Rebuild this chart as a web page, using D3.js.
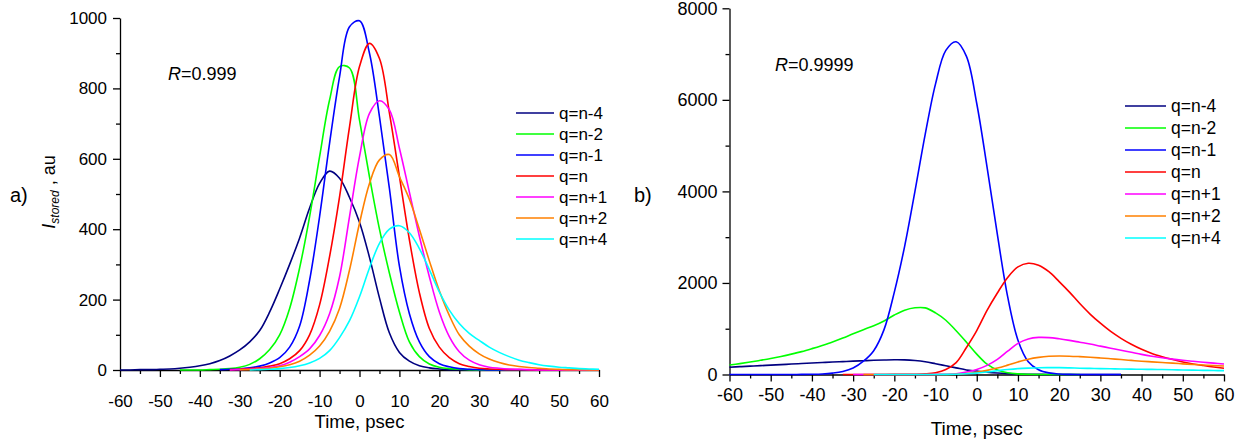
<!DOCTYPE html>
<html>
<head>
<meta charset="utf-8">
<script src="https://cdn.jsdelivr.net/npm/d3@7"></script>
<style>
body { margin: 0; background: #fff; }
svg text { font-family: "Liberation Sans", Arial, sans-serif; fill: #000; }
</style>
</head>
<body>
<svg id="chart" width="1254" height="448"></svg>
<script>
// time grid, psec (same for every series)
var time = [-60,-57.5,-55,-52.5,-50,-47.5,-45,-42.5,-40,-37.5,-35,-32.5,-30,-27.5,-25,-22.5,-20,-17.5,-15,-12.5,
            -10,-7.5,-5,-2.5,0,2.5,5,7.5,10,12.5,15,17.5,20,22.5,25,27.5,30,32.5,35,37.5,
            40,42.5,45,47.5,50,52.5,55,57.5,60];

var names = ["q=n-4","q=n-2","q=n-1","q=n","q=n+1","q=n+2","q=n+4"];
var colors = ["#000080","#00ff00","#0000ff","#ff0000","#ff00ff","#ff8000","#00ffff"];

// tick labels
var xTicks = [-60,-50,-40,-30,-20,-10,0,10,20,30,40,50,60];
var xMinor = [-55,-45,-35,-25,-15,-5,5,15,25,35,45,55];
var yTicksA = [0,200,400,600,800,1000];
var yMinorA = [100,300,500,700,900];
var yTicksB = [0,2000,4000,6000,8000];
var yMinorB = [1000,3000,5000,7000];

var _ = null;

// panel a) R=0.999
var aN4 = [0,0,1,1,2,3,5,8,12,18,27,40,57,80,112,165,230,300,375,460,530,565,545,490,420,320,205,105,50,25,12,6,3,1,1,0,0,0,0,0,0,0,0,0,0,0,0,0,0];
var aN2 = [_,_,_,_,_,_,0,0,0,1,2,4,8,16,32,58,100,175,290,436,606,767,862,858,710,549,400,275,165,80,38,17,8,4,2,1,0,0,0,0,0,0,0,0,0,0,0,0,0];
var aN1 = [_,_,_,_,_,_,_,_,_,_,1,2,3,6,11,20,35,65,125,255,436,644,833,975,992,900,720,515,295,160,80,38,18,9,4,2,1,0,0,0,0,0,0,0,0,0,0,0,0];
var aN  = [_,_,_,_,_,_,_,_,_,_,_,1,2,4,6,11,18,32,55,100,185,322,492,691,862,928,885,730,550,370,220,118,65,35,18,10,5,3,2,1,1,0,0,0,0,0,0,0,0];
var aP1 = [_,_,_,_,_,_,_,_,_,_,_,0,1,2,4,7,12,22,38,60,98,160,265,436,606,729,765,739,630,505,380,265,165,95,52,28,15,8,5,3,2,1,0,0,0,0,0,0,0];
var aP2 = [_,_,_,_,_,_,_,_,_,_,_,_,1,1,3,5,9,15,25,42,68,110,175,284,417,530,597,612,549,485,400,310,225,155,100,68,46,31,21,14,10,7,5,3,2,1,1,0,0];
var aP4 = [_,_,_,_,_,_,_,_,_,_,_,_,_,0,1,2,4,7,12,20,33,55,92,140,208,290,360,400,410,390,345,285,222,170,132,104,84,65,50,38,28,21,15,11,8,6,4,3,2];

// panel b) R=0.9999
var bN4 = [160,171,182,193,205,216,228,239,250,261,272,282,292,301,310,317,322,320,305,278,235,190,145,100,75,50,32,19,10,5,3,1,1,0,0,0,0,0,0,_,_,_,_,_,_,_,_,_,_];
var bN2 = [207,238,272,310,350,395,445,500,565,635,710,795,890,980,1065,1170,1300,1405,1458,1455,1345,1185,955,705,445,225,100,38,13,4,1,0,0,0,0,_,_,_,_,_,_,_,_,_,_,_,_,_,_];
var bN1 = [0,0,0,0,0,0,1,2,5,12,30,65,140,290,520,980,1800,2800,4000,5250,6350,7080,7270,6950,5920,4530,3060,1700,750,280,105,35,10,3,1,0,0,0,0,_,_,_,_,_,_,_,_,_,_];
var bN  = [_,_,_,_,_,_,_,_,_,_,_,0,0,0,1,1,2,3,6,15,40,110,260,590,960,1400,1780,2120,2350,2430,2385,2245,2030,1800,1550,1320,1120,940,790,660,550,460,390,330,275,230,195,163,137];
var bP1 = [_,_,_,_,_,_,_,_,_,_,_,_,0,0,0,0,0,0,0,1,2,5,18,55,110,200,330,510,680,775,810,806,780,745,705,665,620,575,530,485,440,400,365,335,310,288,268,248,230];
var bP2 = [_,_,_,_,_,_,_,_,_,_,_,_,_,0,0,0,0,0,0,0,0,1,6,22,50,90,140,205,275,335,375,398,404,400,390,378,362,345,326,308,290,276,262,248,233,220,208,196,185];
var bP4 = [_,_,_,_,_,_,_,_,_,_,_,_,_,_,0,0,0,0,0,0,0,2,6,15,30,55,82,108,128,140,148,150,150,145,138,133,128,124,120,117,114,111,108,104,99,95,91,87,84];

var svg = d3.select("#chart");
var font = "Liberation Sans, Arial, sans-serif";

function drawPanel(p) {
    var x = d3.scaleLinear().domain([-60, 60]).range(p.xr);
    var y = d3.scaleLinear().domain(p.yd).range(p.yr);
    var g = svg.append("g");

    //major + minor ticks on the x axis
    var xa = g.append("g").attr("transform", "translate(0," + p.yr[0] + ")")
        .call(d3.axisBottom(x).tickValues(xTicks).tickSize(7).tickSizeOuter(0)
            .tickPadding(p.xPad).tickFormat(function(d) { return String(d); }));
    xa.selectAll("text").attr("font-size", p.fs).attr("font-family", font);
    var xm = g.append("g").attr("transform", "translate(0," + p.yr[0] + ")")
        .call(d3.axisBottom(x).tickValues(xMinor).tickSize(4).tickFormat(""));
    xm.select(".domain").remove();

    var ya = g.append("g").attr("transform", "translate(" + p.xr[0] + ",0)")
        .call(d3.axisLeft(y).tickValues(p.yTicks).tickSize(7).tickSizeOuter(0)
            .tickPadding(p.yPad).tickFormat(function(d) { return String(d); }));
    ya.selectAll("text").attr("font-size", p.fs).attr("font-family", font);
    var ym = g.append("g").attr("transform", "translate(" + p.xr[0] + ",0)")
        .call(d3.axisLeft(y).tickValues(p.yMinor).tickSize(4).tickFormat(""));
    ym.select(".domain").remove();

    g.selectAll(".domain, .tick line").attr("stroke", "#000").attr("stroke-width", 1.3);

    var line = d3.line()
        .defined(function(d) { return d[1] != null; })
        .x(function(d) { return x(d[0]); })
        .y(function(d) { return y(d[1]); })
        .curve(d3.curveCatmullRom.alpha(0.5));

    for (var i = 0; i < p.series.length; i++) {
        var vals = p.series[i];
        var pts = time.map(function(t, k) { return [t, vals[k]]; });
        g.append("path").datum(pts).attr("d", line)
            .attr("fill", "none").attr("stroke", colors[i]).attr("stroke-width", 1.6);
    }

    // legend
    for (var j = 0; j < names.length; j++) {
        var ly = p.leg.y + j * p.leg.dy;
        g.append("line").attr("x1", p.leg.x1).attr("x2", p.leg.x2).attr("y1", ly).attr("y2", ly)
            .attr("stroke", colors[j]).attr("stroke-width", 1.6);
        g.append("text").attr("x", p.leg.tx).attr("y", ly + 6).attr("font-size", p.leg.fs).text(names[j]);
    }

    g.append("text").attr("x", (p.xr[0] + p.xr[1]) / 2).attr("y", p.titleY)
        .attr("text-anchor", "middle").attr("font-size", p.titleFs).text("Time, psec");

    var r = g.append("text").attr("x", p.rx).attr("y", p.ry).attr("font-size", 18);
    r.append("tspan").attr("font-style", "italic").text("R");
    r.append("tspan").text("=" + p.rText);

    g.append("text").attr("x", p.px).attr("y", 202).attr("font-size", 20).text(p.panel);
}

drawPanel({
    xr: [120, 599], yr: [370, 18], yd: [0, 1000],
    yTicks: yTicksA, yMinor: yMinorA, xPad: 18, yPad: 6, fs: 17,
    series: [aN4, aN2, aN1, aN, aP1, aP2, aP4],
    leg: {x1: 516, x2: 554, tx: 559, y: 113, dy: 21, fs: 17},
    titleY: 428, titleFs: 18.5,
    rx: 168, ry: 80, rText: "0.999",
    px: 10, panel: "a)"
});

drawPanel({
    xr: [729.5, 1224], yr: [374.5, 8.3], yd: [0, 8000],
    yTicks: yTicksB, yMinor: yMinorB, xPad: 7, yPad: 5, fs: 18,
    series: [bN4, bN2, bN1, bN, bP1, bP2, bP4],
    leg: {x1: 1125, x2: 1166, tx: 1171, y: 106, dy: 22, fs: 17.5},
    titleY: 435, titleFs: 19,
    rx: 775, ry: 71, rText: "0.9999",
    px: 634, panel: "b)"
});

// y axis title of panel a)
var yl = svg.append("text").attr("transform", "translate(55,192) rotate(-90)")
    .attr("text-anchor", "middle").attr("font-size", 18);
yl.append("tspan").attr("font-style", "italic").text("I");
yl.append("tspan").attr("font-style", "italic").attr("font-size", 12).attr("dy", 4).text("stored");
yl.append("tspan").attr("dy", -4).text(" , au");
</script>
</body>
</html>
